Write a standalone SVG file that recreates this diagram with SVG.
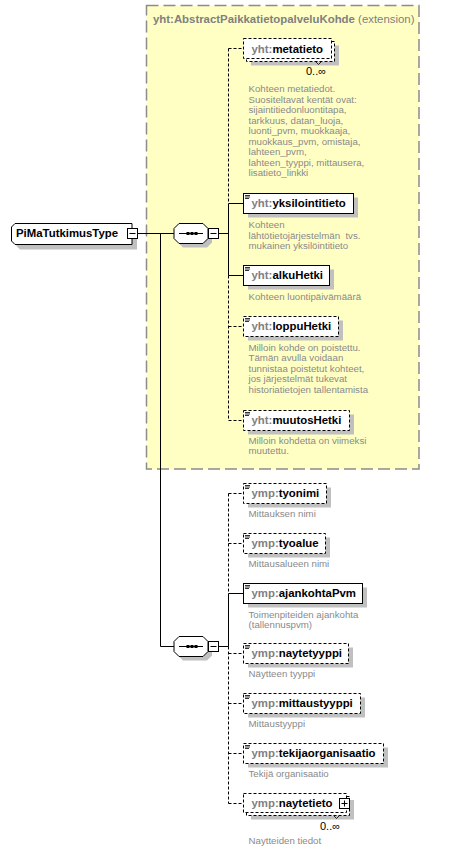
<svg xmlns="http://www.w3.org/2000/svg" width="462" height="853" viewBox="0 0 462 853">
<style>
.bg{fill:#fff}
.ext{fill:#ffffc4;stroke:#8c8c8c;stroke-width:1.5;stroke-dasharray:12,5}
.box{fill:#fff;stroke:#000;stroke-width:1}
.opt{stroke-dasharray:3,2}
.sh{fill:#c0c0c0;stroke:none}
.ln{fill:none;stroke:#000;stroke-width:1}
.dl{stroke-dasharray:3,2}
.icon{fill:none;stroke:#000;stroke-width:0.8}
.name{font-family:"Liberation Sans",Arial,sans-serif;font-size:11.4px;font-weight:bold;fill:#000}
.pfx{fill:#808080}
.desc{font-family:"Liberation Sans",Arial,sans-serif;font-size:9.7px;fill:#8a8a8a}
.occ{font-family:"Liberation Sans",Arial,sans-serif;font-size:11px;fill:#000}
.title{font-family:"Liberation Sans",Arial,sans-serif;font-size:11.4px;fill:#808080}
</style>
<rect class="bg" x="0" y="0" width="462" height="853"/>

<g id="extension">
<rect class="ext" x="146.5" y="5.5" width="272.5" height="463.5"/>
<text class="title" x="153" y="23"><tspan font-weight="bold">yht:AbstractPaikkatietopalveluKohde</tspan> (extension)</text>
</g>

<g id="connectors">
<path class="ln" d="M137.5 233.5H174M160.5 233.5V646.5H174"/>
<path class="ln" d="M218.5 233.5H228.5M228.5 203.5V275.5M228.5 203.5H243.5M228.5 275.5H243.5"/>
<path class="ln dl" d="M228.5 48.5V203.5M228.5 275.5V420.5M228.5 48.5H243.5M228.5 326.5H243.5M228.5 420.5H243.5"/>
<path class="ln" d="M218.5 646.5H228.5M228.5 593.5V646.5M228.5 593.5H243.5"/>
<path class="ln dl" d="M228.5 493.5V593.5M228.5 646.5V803.5M228.5 493.5H243.5M228.5 543.5H243.5M228.5 653.5H243.5M228.5 703.5H243.5M228.5 753.5H243.5M228.5 803.5H243.5"/>
</g>

<g id="PiMaTutkimusType">
<polygon class="sh" points="20,228.5 137,228.5 137,249.5 20,249.5 16.5,246 16.5,232"/>
<polygon class="box" points="15,223.5 132,223.5 132,244.5 15,244.5 11.5,241 11.5,227"/>
<text class="name" x="16" y="237">PiMaTutkimusType</text>
<rect class="box" x="127.5" y="228.5" width="10" height="10"/>
<path class="ln" d="M129.5 233.5h6"/>
</g>

<g id="sequence1">
<polygon class="sh" points="183,227.5 207,227.5 212,232.5 212,242.5 207,247.5 183,247.5 178,242.5 178,232.5"/>
<polygon class="box" points="179,223.5 203,223.5 208,228.5 208,238.5 203,243.5 179,243.5 174,238.5 174,228.5"/>
<path class="ln" d="M179 233.5H203"/>
<rect x="186.5" y="232" width="3" height="3" fill="#000"/>
<rect x="190.5" y="232" width="3" height="3" fill="#000"/>
<rect x="194.5" y="232" width="3" height="3" fill="#000"/>
<rect class="box" x="208.5" y="228.5" width="10" height="10"/>
<path class="ln" d="M210.5 233.5h6"/>
</g>

<g id="sequence2">
<polygon class="sh" points="183,640.5 207,640.5 212,645.5 212,655.5 207,660.5 183,660.5 178,655.5 178,645.5"/>
<polygon class="box" points="179,636.5 203,636.5 208,641.5 208,651.5 203,656.5 179,656.5 174,651.5 174,641.5"/>
<path class="ln" d="M179 646.5H203"/>
<rect x="186.5" y="645" width="3" height="3" fill="#000"/>
<rect x="190.5" y="645" width="3" height="3" fill="#000"/>
<rect x="194.5" y="645" width="3" height="3" fill="#000"/>
<rect class="box" x="208.5" y="641.5" width="10" height="10"/>
<path class="ln" d="M210.5 646.5h6"/>
</g>

<g id="metatieto">
<rect class="sh" x="251" y="45.5" width="88" height="20"/>
<rect class="box opt" x="246.5" y="41.5" width="88" height="20"/>
<rect class="box opt" x="243.5" y="38.5" width="88" height="20"/>
<path class="icon" d="M316 62l2.5 2.5l2.5-2.5"/>
<text class="name" x="251.5" y="52.5"><tspan class="pfx">yht:</tspan>metatieto</text>
<text class="occ" x="306" y="75">0..∞</text>
<text class="desc" x="248.5" y="92">Kohteen metatiedot.<tspan x="248.5" dy="10.5">Suositeltavat kentät ovat:</tspan><tspan x="248.5" dy="10.5">sijaintitiedonluontitapa,</tspan><tspan x="248.5" dy="10.5">tarkkuus, datan_luoja,</tspan><tspan x="248.5" dy="10.5">luonti_pvm, muokkaaja,</tspan><tspan x="248.5" dy="10.5">muokkaus_pvm, omistaja,</tspan><tspan x="248.5" dy="10.5">lahteen_pvm,</tspan><tspan x="248.5" dy="10.5">lahteen_tyyppi, mittausera,</tspan><tspan x="248.5" dy="10.5">lisatieto_linkki</tspan></text>
</g>

<g id="yksilointitieto">
<rect class="sh" x="248" y="197.5" width="110" height="20"/>
<rect class="box" x="243.5" y="193.5" width="110" height="20"/>
<path class="icon" d="M245 195.5h5M245 197h5M245 198.5h4"/>
<text class="name" x="251.5" y="207"><tspan class="pfx">yht:</tspan>yksilointitieto</text>
<text class="desc" x="248.5" y="228">Kohteen<tspan x="248.5" dy="10.5">lähtötietojärjestelmän&#160; tvs.</tspan><tspan x="248.5" dy="10.5">mukainen yksilöintitieto</tspan></text>
</g>

<g id="alkuHetki">
<rect class="sh" x="248" y="269.5" width="86" height="20"/>
<rect class="box" x="243.5" y="265.5" width="86" height="20"/>
<path class="icon" d="M245 267.5h5M245 269h5M245 270.5h4"/>
<text class="name" x="251.5" y="279"><tspan class="pfx">yht:</tspan>alkuHetki</text>
<text class="desc" x="248.5" y="299.5">Kohteen luontipäivämäärä</text>
</g>

<g id="loppuHetki">
<rect class="sh" x="248" y="320.5" width="95" height="20"/>
<rect class="box opt" x="243.5" y="316.5" width="95" height="20"/>
<path class="icon" d="M245 318.5h5M245 320h5M245 321.5h4"/>
<text class="name" x="251.5" y="330"><tspan class="pfx">yht:</tspan>loppuHetki</text>
<text class="desc" x="248.5" y="350.5">Milloin kohde on poistettu.<tspan x="248.5" dy="10.6">Tämän avulla voidaan</tspan><tspan x="248.5" dy="10.6">tunnistaa poistetut kohteet,</tspan><tspan x="248.5" dy="10.6">jos järjestelmät tukevat</tspan><tspan x="248.5" dy="10.6">historiatietojen tallentamista</tspan></text>
</g>

<g id="muutosHetki">
<rect class="sh" x="248" y="414.5" width="106" height="20"/>
<rect class="box opt" x="243.5" y="410.5" width="106" height="20"/>
<path class="icon" d="M245 412.5h5M245 414h5M245 415.5h4"/>
<text class="name" x="251.5" y="424"><tspan class="pfx">yht:</tspan>muutosHetki</text>
<text class="desc" x="248.5" y="443.5">Milloin kohdetta on viimeksi<tspan x="248.5" dy="10.6">muutettu.</tspan></text>
</g>

<g id="tyonimi">
<rect class="sh" x="248" y="487.5" width="83" height="20"/>
<rect class="box opt" x="243.5" y="483.5" width="83" height="20"/>
<path class="icon" d="M245 485.5h5M245 487h5M245 488.5h4"/>
<text class="name" x="251.5" y="497"><tspan class="pfx">ymp:</tspan>tyonimi</text>
<text class="desc" x="248.5" y="516.5">Mittauksen nimi</text>
</g>

<g id="tyoalue">
<rect class="sh" x="248" y="537.5" width="82" height="20"/>
<rect class="box opt" x="243.5" y="533.5" width="82" height="20"/>
<path class="icon" d="M245 535.5h5M245 537h5M245 538.5h4"/>
<text class="name" x="251.5" y="547"><tspan class="pfx">ymp:</tspan>tyoalue</text>
<text class="desc" x="248.5" y="566.5">Mittausalueen nimi</text>
</g>

<g id="ajankohtaPvm">
<rect class="sh" x="248" y="587.5" width="119" height="20"/>
<rect class="box" x="243.5" y="583.5" width="119" height="20"/>
<path class="icon" d="M245 585.5h5M245 587h5M245 588.5h4"/>
<text class="name" x="251.5" y="597"><tspan class="pfx">ymp:</tspan>ajankohtaPvm</text>
<text class="desc" x="248.5" y="617.5">Toimenpiteiden ajankohta<tspan x="248.5" dy="10.5">(tallennuspvm)</tspan></text>
</g>

<g id="naytetyyppi">
<rect class="sh" x="248" y="647.5" width="105" height="20"/>
<rect class="box opt" x="243.5" y="643.5" width="105" height="20"/>
<path class="icon" d="M245 645.5h5M245 647h5M245 648.5h4"/>
<text class="name" x="251.5" y="657"><tspan class="pfx">ymp:</tspan>naytetyyppi</text>
<text class="desc" x="248.5" y="677">Näytteen tyyppi</text>
</g>

<g id="mittaustyyppi">
<rect class="sh" x="248" y="697.5" width="117" height="20"/>
<rect class="box opt" x="243.5" y="693.5" width="117" height="20"/>
<path class="icon" d="M245 695.5h5M245 697h5M245 698.5h4"/>
<text class="name" x="251.5" y="707"><tspan class="pfx">ymp:</tspan>mittaustyyppi</text>
<text class="desc" x="248.5" y="727">Mittaustyyppi</text>
</g>

<g id="tekijaorganisaatio">
<rect class="sh" x="248" y="747.5" width="140" height="20"/>
<rect class="box opt" x="243.5" y="743.5" width="140" height="20"/>
<path class="icon" d="M245 745.5h5M245 747h5M245 748.5h4"/>
<text class="name" x="251.5" y="757"><tspan class="pfx">ymp:</tspan>tekijaorganisaatio</text>
<text class="desc" x="248.5" y="777">Tekijä organisaatio</text>
</g>

<g id="naytetieto">
<rect class="sh" x="251" y="800" width="103" height="19.5"/>
<rect class="box opt" x="246.5" y="796.5" width="103" height="19"/>
<rect class="box opt" x="243.5" y="793.5" width="103" height="19"/>
<path class="icon" d="M334 816l2.5 2.5l2.5-2.5"/>
<text class="name" x="251.5" y="807"><tspan class="pfx">ymp:</tspan>naytetieto</text>
<rect class="box" x="339.5" y="798.5" width="10" height="10"/>
<path class="ln" d="M341.5 803.5h6M344.5 800.5v6"/>
<text class="occ" x="320" y="830">0..∞</text>
<text class="desc" x="248.5" y="843.5">Naytteiden tiedot</text>
</g>
</svg>
